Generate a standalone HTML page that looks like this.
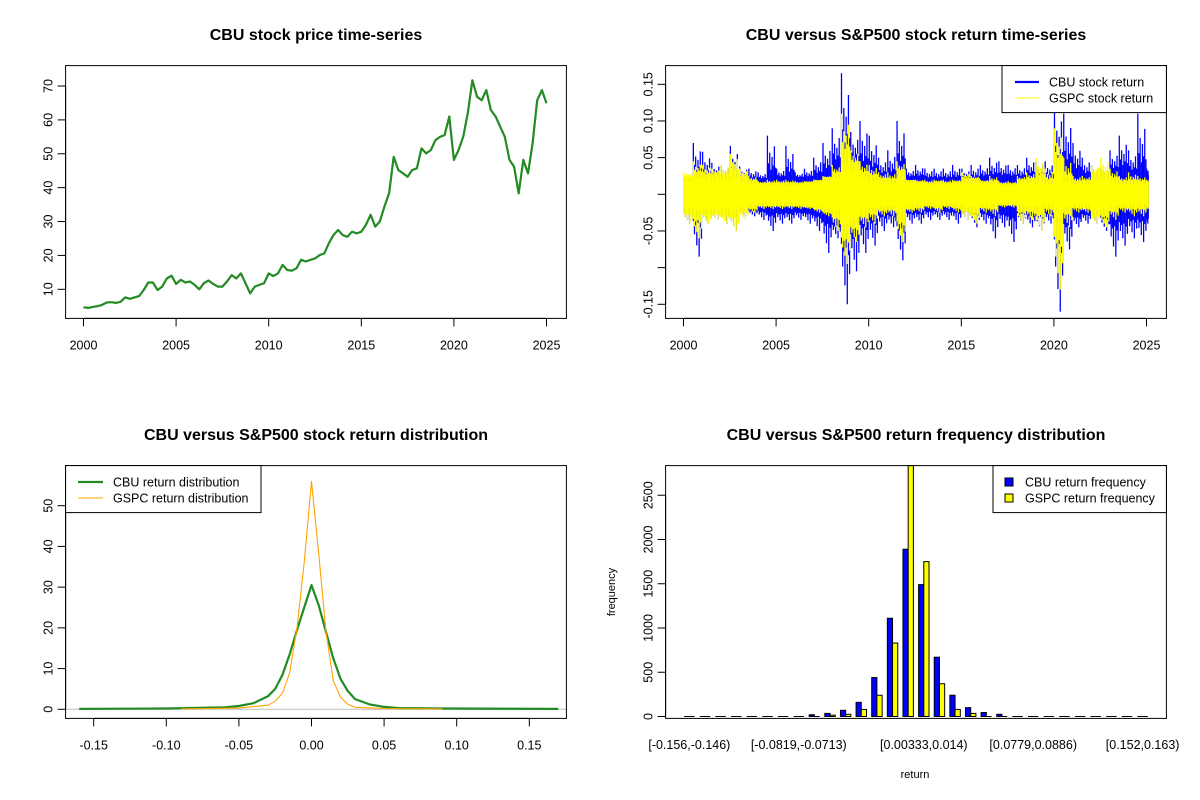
<!DOCTYPE html>
<html><head><meta charset="utf-8"><style>
html,body{margin:0;padding:0;background:#fff;}
svg{display:block;font-family:"Liberation Sans",Arial,sans-serif;}
</style></head><body>
<svg id="chart" width="1200" height="800" viewBox="0 0 1200 800" xmlns="http://www.w3.org/2000/svg">
<rect width="1200" height="800" fill="#fff"/>
<g id="g1"></g>
<g id="g2"></g>
<g id="g3"></g>
<g id="g4"></g>
</svg>
<script>
// ---- Panel 1 data: quarterly price ----
const priceStart = 2000, priceStep = 0.25;
const priceVals = [4.7,4.5,4.8,5.0,5.4,6.1,6.2,6.0,6.3,7.6,7.2,7.6,8.0,9.8,12,12,9.8,10.8,13.2,14,11.6,12.8,12,12.3,11.3,10,11.8,12.6,11.6,10.8,10.8,12.3,14.2,13.2,14.7,11.8,8.8,10.8,11.3,11.8,14.7,13.9,14.7,17.2,15.7,15.5,16.2,18.7,18.2,18.7,19.1,20.1,20.6,23.6,26,27.5,26,25.5,27,26.5,27,29,32,28.5,30,34.4,38.3,49.1,45.2,44.2,43.2,45.2,45.7,51.6,50.1,51.1,54,55,55.5,61,48.2,51.1,55,62,71.7,66.8,65.8,68.8,62.9,61,58,55,48.2,46.2,38.3,48.2,44.2,53.1,65.8,68.8,64.9];
const priceYTicks = [10,20,30,40,50,60,70];
const yearTicks = [2000,2005,2010,2015,2020,2025];

// ---- Panel 2 data: half-year return envelopes ----
const retStart = 2000, retStep = 0.5, retEnd = 2025.1;
const cbuMax = [0.022,0.07,0.058,0.043,0.04,0.066,0.038,0.035,0.03,0.08,0.035,0.066,0.03,0.035,0.05,0.07,0.09,0.165,0.085,0.1,0.08,0.05,0.06,0.1,0.035,0.04,0.035,0.035,0.035,0.04,0.035,0.04,0.04,0.05,0.045,0.04,0.04,0.05,0.045,0.045,0.12,0.11,0.07,0.05,0.04,0.035,0.06,0.08,0.06,0.11,0.035];
const cbuMin = [-0.04,-0.085,-0.04,-0.035,-0.04,-0.05,-0.03,-0.03,-0.035,-0.05,-0.04,-0.04,-0.035,-0.04,-0.05,-0.08,-0.06,-0.15,-0.105,-0.08,-0.07,-0.05,-0.045,-0.09,-0.04,-0.04,-0.035,-0.035,-0.035,-0.04,-0.035,-0.045,-0.04,-0.06,-0.045,-0.065,-0.04,-0.045,-0.05,-0.04,-0.16,-0.075,-0.045,-0.04,-0.04,-0.05,-0.085,-0.07,-0.06,-0.065,-0.04];
const cbuBand = [0.022,0.024,0.022,0.022,0.022,0.022,0.02,0.02,0.02,0.022,0.022,0.022,0.022,0.022,0.024,0.027,0.037,0.047,0.042,0.032,0.027,0.024,0.024,0.032,0.022,0.022,0.02,0.02,0.02,0.02,0.02,0.02,0.022,0.022,0.022,0.022,0.022,0.024,0.024,0.022,0.037,0.032,0.027,0.024,0.024,0.027,0.03,0.03,0.027,0.027,0.024];
const spMax = [0.03,0.045,0.04,0.035,0.04,0.055,0.035,0.025,0.018,0.02,0.02,0.02,0.018,0.018,0.02,0.025,0.04,0.11,0.06,0.045,0.04,0.03,0.03,0.045,0.02,0.02,0.02,0.02,0.02,0.02,0.03,0.025,0.02,0.025,0.018,0.018,0.025,0.03,0.05,0.035,0.09,0.05,0.025,0.025,0.04,0.05,0.035,0.025,0.03,0.025,0.02];
const spMin = [-0.04,-0.06,-0.04,-0.035,-0.04,-0.05,-0.035,-0.025,-0.02,-0.02,-0.02,-0.02,-0.02,-0.02,-0.025,-0.03,-0.05,-0.095,-0.065,-0.045,-0.04,-0.03,-0.03,-0.065,-0.025,-0.025,-0.02,-0.025,-0.02,-0.025,-0.035,-0.04,-0.025,-0.03,-0.018,-0.018,-0.04,-0.035,-0.05,-0.03,-0.13,-0.045,-0.025,-0.025,-0.04,-0.045,-0.035,-0.025,-0.03,-0.03,-0.02];
const spBand = [0.023,0.027,0.025,0.025,0.025,0.027,0.021,0.018,0.015,0.015,0.015,0.015,0.015,0.017,0.019,0.023,0.027,0.05,0.04,0.027,0.023,0.02,0.019,0.03,0.019,0.017,0.015,0.017,0.015,0.017,0.02,0.021,0.017,0.017,0.014,0.014,0.019,0.02,0.021,0.017,0.04,0.021,0.017,0.018,0.027,0.025,0.02,0.017,0.017,0.017,0.015];
const retYTicks = [-0.15,-0.10,-0.05,0,0.05,0.10,0.15];
const retYLabels = ["-0.15","","-0.05","","0.05","0.10","0.15"];

// ---- Panel 3 data: densities ----
const cbuDensX = [-0.16,-0.1,-0.06,-0.05,-0.04,-0.03,-0.025,-0.02,-0.015,-0.01,-0.005,0,0.005,0.01,0.015,0.02,0.025,0.03,0.04,0.05,0.06,0.09,0.17];
const cbuDensY = [0.1,0.2,0.5,0.8,1.5,3.2,5,8.5,13.5,19.5,25,30.5,25.5,19,12.5,7.5,4.5,2.5,1.2,0.6,0.3,0.2,0.1];
const spDensX = [-0.09,-0.05,-0.03,-0.025,-0.02,-0.015,-0.01,-0.005,0,0.005,0.01,0.015,0.02,0.025,0.03,0.05,0.09];
const spDensY = [0.1,0.3,1,2,4,9,20,36,56,38,19,7,3,1.2,0.5,0.2,0.1];
const densXTicks = [-0.15,-0.10,-0.05,0,0.05,0.10,0.15];
const densXLabels = ["-0.15","-0.10","-0.05","0.00","0.05","0.10","0.15"];
const densYTicks = [0,10,20,30,40,50];

// ---- Panel 4 data: frequencies ----
const cbuFreq = [0,0,0,0,5,3,5,5,20,35,70,160,440,1110,1890,1490,670,240,100,45,25,10,8,8,8,8,2,1,1,1];
const spFreq  = [0,0,0,0,2,1,3,2,10,15,25,80,240,830,2950,1750,370,80,35,10,8,5,3,3,4,4,1,1,1,0];
const binLabelIdx = [0,7,15,22,29];
const binLabels = ["[-0.156,-0.146)","[-0.0819,-0.0713)","[0.00333,0.014)","[0.0779,0.0886)","[0.152,0.163)"];
const freqYTicks = [0,500,1000,1500,2000,2500];

const NS="http://www.w3.org/2000/svg";
function mk(parent,tag,attrs,text){const e=document.createElementNS(NS,tag);for(const k in attrs)e.setAttribute(k,attrs[k]);if(text!==undefined)e.textContent=text;parent.appendChild(e);return e;}

function frame(g,ox,oy,title,name){
  const L=65.6+ox,R=566.4+ox,T=65.6+oy,B=318.4+oy;
  const t=mk(g,'text',{x:(L+R)/2,y:oy+40,'text-anchor':'middle','font-size':'16','font-weight':'bold',fill:'#000'},title);
  
  
  return {L,R,T,B};
}
function boxDraw(g,f,name){
  const b=mk(g,'rect',{x:f.L,y:f.T,width:f.R-f.L,height:f.B-f.T,fill:'none',stroke:'#000','stroke-width':1});
  
  
}
function xAxis(g,f,vals,labels,sx,name){
  const ax=mk(g,'g',{});
  
  
  mk(ax,'line',{x1:sx(vals[0]),x2:sx(vals[vals.length-1]),y1:f.B,y2:f.B,stroke:'#000'});
  vals.forEach((v,i)=>{
    mk(ax,'line',{x1:sx(v),x2:sx(v),y1:f.B,y2:f.B+8,stroke:'#000'});
    const t=mk(ax,'text',{x:sx(v),y:f.B+31,'text-anchor':'middle','font-size':'12.5',fill:'#000'},labels[i]);
    
    
  });
}
function yAxis(g,f,vals,labels,sy,name){
  const ax=mk(g,'g',{});
  
  
  mk(ax,'line',{x1:f.L,x2:f.L,y1:sy(vals[0]),y2:sy(vals[vals.length-1]),stroke:'#000'});
  vals.forEach((v,i)=>{
    mk(ax,'line',{x1:f.L-8,x2:f.L,y1:sy(v),y2:sy(v),stroke:'#000'});
    if(labels[i]!==''){
      const x=f.L-17;
      const t=mk(ax,'text',{x:x,y:sy(v),'text-anchor':'middle','dominant-baseline':'central','font-size':'12.5',fill:'#000',transform:`rotate(-90 ${x} ${sy(v)})`},labels[i]);
      
      
    }
  });
}

// ===== Panel 1 =====
(function(){
  const g=document.getElementById('g1');
  const f=frame(g,0,0,'CBU stock price time-series','price');
  const sx=y=>83.5+(y-2000)*18.52;
  const sy=v=>289.3-(v-10)*3.388;
  const pts=priceVals.map((v,i)=>sx(priceStart+i*priceStep).toFixed(1)+','+sy(v).toFixed(1)).join(' ');
  const pl=mk(g,'polyline',{points:pts,fill:'none',stroke:'#228B22','stroke-width':2.2,'stroke-linejoin':'round'});
  
  
  xAxis(g,f,yearTicks,yearTicks.map(String),sx,'price');
  yAxis(g,f,priceYTicks,priceYTicks.map(String),sy,'price');
  boxDraw(g,f,'price');
})();

// ===== Panel 2 =====
(function(){
  const g=document.getElementById('g2');
  const f=frame(g,600,0,'CBU versus S&P500 stock return time-series','return');
  const sx=y=>683.5+(y-2000)*18.52;
  const sy=v=>194.3-v*733.3;
  const pattern=[1,0.35,0.6,0.2,0.5,0.3,0.75,0.25];
  function series(maxA,minA,bandA,color,name,w){
    const s=mk(g,'g',{stroke:color,'stroke-width':w,fill:color});
    
    
    maxA.forEach((mx,k)=>{
      const y0=retStart+k*retStep, y1=Math.min(y0+retStep,retEnd);
      const band=bandA[k], mn=minA[k];
      mk(s,'rect',{x:sx(y0),y:sy(band*0.8),width:Math.max(sx(y1)-sx(y0),0.5),height:sy(-band*0.8)-sy(band*0.8),stroke:'none'});
      const n=pattern.length;
      for(let j=0;j<n;j++){
        const yr=y0+(y1-y0)*(j+0.5)/n;
        const f1=pattern[j], f2=pattern[(j+3)%n];
        const hi=band+(mx-band)*f1, lo=-band+(mn+band)*f2;
        mk(s,'line',{x1:sx(yr),x2:sx(yr),y1:sy(hi),y2:sy(lo)});
      }
    });
  }
  series(cbuMax,cbuMin,cbuBand,'#0000FF','cbu-return-series',1.3);
  series(spMax,spMin,spBand,'#FFFF00','gspc-return-series',1.3);
  xAxis(g,f,yearTicks,yearTicks.map(String),sx,'return');
  yAxis(g,f,retYTicks,retYLabels,sy,'return');
  boxDraw(g,f,'return');
  const lg=mk(g,'g',{});
  
  
  mk(lg,'rect',{x:1002,y:65.6,width:164.4,height:47,fill:'#fff',stroke:'#000'});
  mk(lg,'line',{x1:1015,x2:1039,y1:82,y2:82,stroke:'#0000FF','stroke-width':2.2});
  mk(lg,'line',{x1:1015,x2:1039,y1:98,y2:98,stroke:'#FFFF00','stroke-width':1});
  mk(lg,'text',{x:1049,y:86.5,'font-size':'12.5'},'CBU stock return');
  mk(lg,'text',{x:1049,y:102.5,'font-size':'12.5'},'GSPC stock return');
})();

// ===== Panel 3 =====
(function(){
  const g=document.getElementById('g3');
  const f=frame(g,0,400,'CBU versus S&P500 stock return distribution','density');
  const sx=v=>311.5+v*1452;
  const sy=v=>709.3-v*4.072;
  const zl=mk(g,'line',{x1:f.L,x2:f.R,y1:sy(0),y2:sy(0),stroke:'#BEBEBE','stroke-width':1});
  
  
  const c=mk(g,'polyline',{points:cbuDensX.map((x,i)=>sx(x).toFixed(1)+','+sy(cbuDensY[i]).toFixed(1)).join(' '),fill:'none',stroke:'#228B22','stroke-width':2.2,'stroke-linejoin':'round'});
  
  
  const s=mk(g,'polyline',{points:spDensX.map((x,i)=>sx(x).toFixed(1)+','+sy(spDensY[i]).toFixed(1)).join(' '),fill:'none',stroke:'#FFA500','stroke-width':1.1,'stroke-linejoin':'round'});
  
  
  xAxis(g,f,densXTicks,densXLabels,sx,'density');
  yAxis(g,f,densYTicks,densYTicks.map(String),sy,'density');
  boxDraw(g,f,'density');
  const lg=mk(g,'g',{});
  
  
  mk(lg,'rect',{x:65.6,y:465.6,width:195.4,height:47,fill:'#fff',stroke:'#000'});
  mk(lg,'line',{x1:78,x2:103,y1:482,y2:482,stroke:'#228B22','stroke-width':2.2});
  mk(lg,'line',{x1:78,x2:103,y1:498,y2:498,stroke:'#FFA500','stroke-width':1});
  mk(lg,'text',{x:113,y:486.5,'font-size':'12.5'},'CBU return distribution');
  mk(lg,'text',{x:113,y:502.5,'font-size':'12.5'},'GSPC return distribution');
})();

// ===== Panel 4 =====
(function(){
  const g=document.getElementById('g4');
  const f=frame(g,600,400,'CBU versus S&P500 return frequency distribution','frequency');
  const ux=u=>665.6+(u+2.56)*5.21;
  const sy=v=>Math.max(716.5-v*0.0885,f.T);
  const bars=mk(g,'g',{stroke:'#000','stroke-width':1});
  
  
  function bar(u,v,color,name){
    const x0=ux(u), x1=ux(u+1), y=sy(v);
    if(716.5-y<1){
      const l=mk(bars,'line',{x1:x0,x2:x1,y1:716.5,y2:716.5});
      
      
    } else {
      const b=mk(bars,'rect',{x:x0,y:y,width:x1-x0,height:716.5-y,fill:color});
      
      
    }
  }
  cbuFreq.forEach((v,i)=>{
    const u=1+3*i;
    bar(u,v,'#0000FF','cbu-bar');
    bar(u+1,spFreq[i],'#FFFF00','gspc-bar');
  });
  binLabelIdx.forEach((i,k)=>{
    const t=mk(g,'text',{x:ux(2+3*i),y:749,'text-anchor':'middle','font-size':'12.5'},binLabels[k]);
    
    
  });
  yAxis(g,f,freqYTicks,freqYTicks.map(String),v=>716.5-v*0.0885,'frequency');
  boxDraw(g,f,'frequency');
  const xt=mk(g,'text',{x:915,y:778,'text-anchor':'middle','font-size':'11'},'return');
  
  
  const yt=mk(g,'text',{x:612,y:592,'text-anchor':'middle','dominant-baseline':'central','font-size':'11',transform:'rotate(-90 612 592)'},'frequency');
  
  
  const lg=mk(g,'g',{});
  
  
  mk(lg,'rect',{x:993,y:465.6,width:173.4,height:47,fill:'#fff',stroke:'#000'});
  mk(lg,'rect',{x:1005,y:478,width:8,height:8,fill:'#0000FF',stroke:'#000'});
  mk(lg,'rect',{x:1005,y:494,width:8,height:8,fill:'#FFFF00',stroke:'#000'});
  mk(lg,'text',{x:1025,y:486.5,'font-size':'12.5'},'CBU return frequency');
  mk(lg,'text',{x:1025,y:502.5,'font-size':'12.5'},'GSPC return frequency');
})();
</script>
</body></html>
